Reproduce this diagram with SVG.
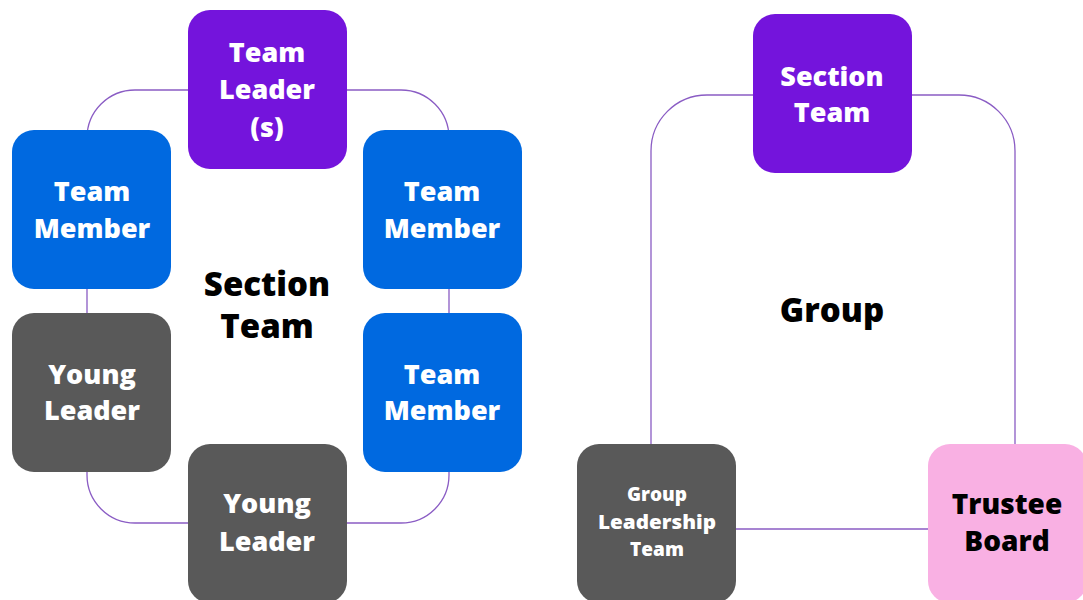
<svg xmlns="http://www.w3.org/2000/svg" width="1083" height="600" viewBox="0 0 1083 600">
<style>
.conn{fill:none;stroke:#8a5cc4;stroke-width:1.3}
.box{stroke:none}
.purple{fill:#7414dc}
.blue{fill:#0069e0}
.gray{fill:#595959}
.pink{fill:#f9b0e3}
.t{font-family:"Open Sans","Liberation Sans",sans-serif;font-weight:800;text-anchor:middle}
.s{font-size:19px;fill:#ffffff}
.w{fill:#ffffff;font-size:27px}
.k{fill:#000000}
</style>
<rect width="1083" height="600" fill="#ffffff"/>
<g id="connectors">
<rect class="conn" x="87" y="90" width="362" height="433" rx="48"/>
<rect class="conn" x="651" y="95" width="364" height="434" rx="56"/>
</g>
<g id="label-section-team">
<text class="t k" x="267" y="296" font-size="33">Section</text>
<text class="t k" x="267" y="338" font-size="33">Team</text>
</g>
<g id="label-group">
<text class="t k" x="832" y="322" font-size="33">Group</text>
</g>
<g id="team-leader">
<rect class="box purple" x="188" y="10" width="159" height="159" rx="22"/>
<text class="t w" x="267" y="62">Team</text>
<text class="t w" x="267" y="99">Leader</text>
<text class="t w" x="267" y="137">(s)</text>
</g>
<g id="team-member-1">
<rect class="box blue" x="12" y="130" width="159" height="159" rx="22"/>
<text class="t w" x="92" y="201">Team</text>
<text class="t w" x="92" y="238">Member</text>
</g>
<g id="team-member-2">
<rect class="box blue" x="363" y="130" width="159" height="159" rx="22"/>
<text class="t w" x="442" y="201">Team</text>
<text class="t w" x="442" y="238">Member</text>
</g>
<g id="team-member-3">
<rect class="box blue" x="363" y="313" width="159" height="159" rx="22"/>
<text class="t w" x="442" y="384">Team</text>
<text class="t w" x="442" y="420">Member</text>
</g>
<g id="young-leader-1">
<rect class="box gray" x="12" y="313" width="159" height="159" rx="22"/>
<text class="t w" x="92" y="384">Young</text>
<text class="t w" x="92" y="420">Leader</text>
</g>
<g id="young-leader-2">
<rect class="box gray" x="188" y="444" width="159" height="159" rx="22"/>
<text class="t w" x="267" y="513">Young</text>
<text class="t w" x="267" y="551">Leader</text>
</g>
<g id="section-team">
<rect class="box purple" x="753" y="14" width="159" height="159" rx="22"/>
<text class="t w" x="832" y="86">Section</text>
<text class="t w" x="832" y="122">Team</text>
</g>
<g id="group-leadership-team">
<rect class="box gray" x="577" y="444" width="159" height="159" rx="22"/>
<text class="t s" x="657" y="501">Group</text>
<text class="t s" x="657" y="529" textLength="118" lengthAdjust="spacingAndGlyphs">Leadership</text>
<text class="t s" x="657" y="556">Team</text>
</g>
<g id="trustee-board">
<rect class="box pink" x="928" y="444" width="159" height="159" rx="22"/>
<text class="t k" x="1007" y="514" font-size="28">Trustee</text>
<text class="t k" x="1007" y="551" font-size="28">Board</text>
</g>
</svg>
